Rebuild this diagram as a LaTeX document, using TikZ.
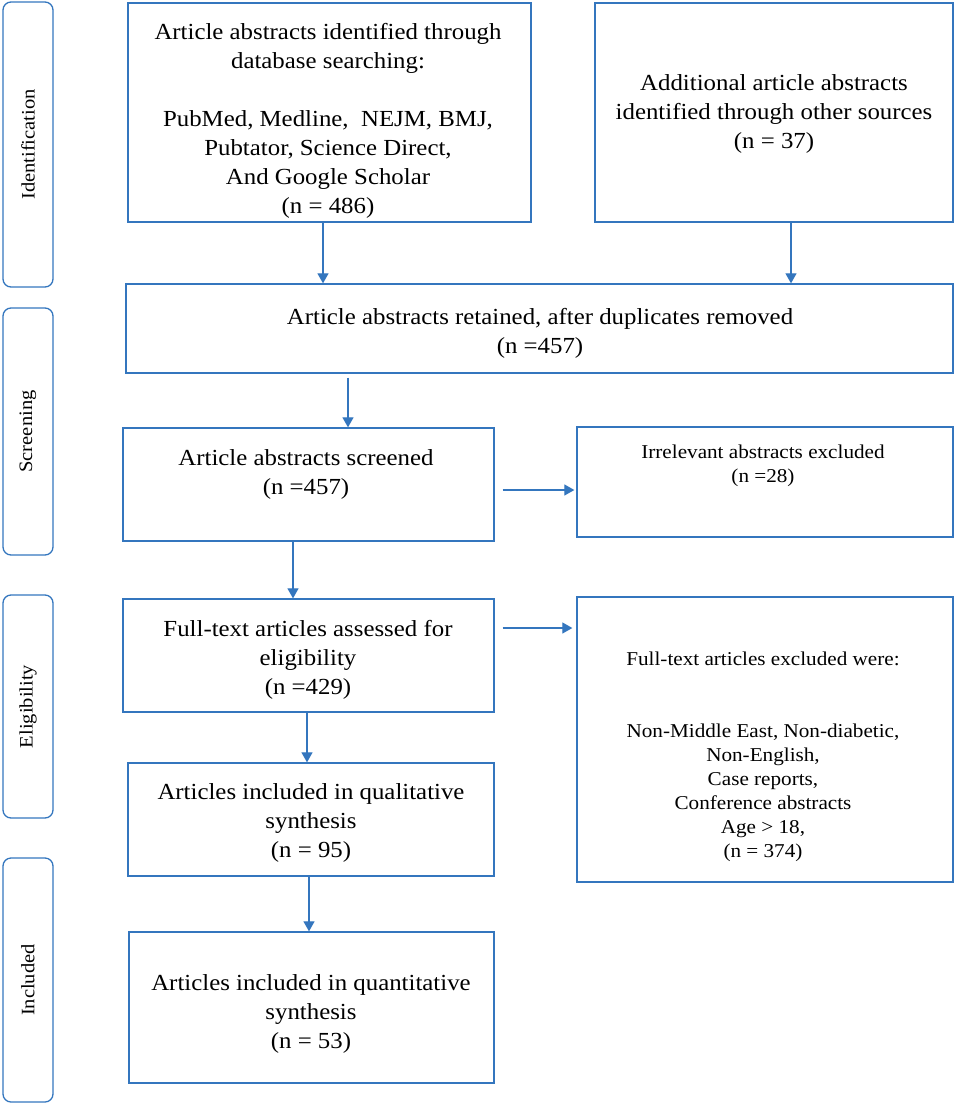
\documentclass[tikz,border=0pt]{standalone}
\usepackage{fontspec}
\setmainfont{Liberation Serif}[FakeStretch=1.08]
\usetikzlibrary{arrows.meta}
\definecolor{bl}{RGB}{52,118,190}
\begin{document}
\begin{tikzpicture}[x=1pt,y=-1pt,
  box/.style={draw=bl, line width=1.3pt, inner sep=0pt},
  stage/.style={draw=bl, line width=1.3pt, rounded corners=8pt, inner sep=0pt, minimum width=50pt},
  big/.style={align=center, font=\fontsize{23}{29}\selectfont, inner sep=0pt},
  small/.style={align=center, font=\fontsize{19.6}{24}\selectfont, inner sep=0pt},
  lab/.style={rotate=90, font=\fontsize{19}{22}\selectfont, inner sep=0pt},
  arr/.style={draw=bl, line width=1.2pt, -{Triangle[width=11pt,length=10pt]}}]
\useasboundingbox (0,0) rectangle (957,1106);
% stage boxes
\node[stage, minimum height=285pt] (s1) at (28,144.5) {};
\node[stage, minimum height=247pt] (s2) at (28,431.5) {};
\node[stage, minimum height=223pt] (s3) at (28,706.5) {};
\node[stage, minimum height=244pt] (s4) at (28,980) {};
\node[lab] (l1) at (s1.center) {Identification};
\node[lab] (l2) at (s2.center) {Screening};
\node[lab] (l3) at (s3.center) {Eligibility};
\node[lab] (l4) at (s4.center) {Included};
% main boxes
\node[box, minimum width=403pt, minimum height=219pt] (A) at (329.5,112.5) {};
\node[box, minimum width=358pt, minimum height=219pt] (B) at (774,112.5) {};
\node[box, minimum width=827pt, minimum height=89pt] (C) at (539.5,328.5) {};
\node[box, minimum width=371pt, minimum height=113pt] (D) at (308.5,484.5) {};
\node[box, minimum width=376pt, minimum height=110pt] (E) at (765,482) {};
\node[box, minimum width=371pt, minimum height=113pt] (F) at (308.5,655.5) {};
\node[box, minimum width=376pt, minimum height=285pt] (G) at (765,739.5) {};
\node[box, minimum width=366pt, minimum height=113pt] (H) at (311,819.5) {};
\node[box, minimum width=365pt, minimum height=151pt] (I) at (311.5,1007.5) {};
% texts
\node[big] (tA) at (328,121) {Article abstracts identified through\\database searching:\\[29pt]PubMed, Medline,\ \ NEJM, BMJ,\\Pubtator, Science Direct,\\And Google Scholar\\(n = 486)};
\node[big] (tB) at (774,114) {Additional article abstracts\\identified through other sources\\(n = 37)};
\node[big] (tC) at (540,333) {Article abstracts retained, after duplicates removed\\(n =457)};
\node[big] (tD) at (306,474) {Article abstracts screened\\(n =457)};
\node[small] (tE) at (763,466) {Irrelevant abstracts excluded\\(n =28)};
\node[big] (tF) at (308,660) {Full-text articles assessed for\\eligibility\\(n =429)};
\node[small] (tG) at (763,757) {Full-text articles excluded were:\\[48pt]Non-Middle East, Non-diabetic,\\Non-English,\\Case reports,\\Conference abstracts\\Age > 18,\\(n = 374)};
\node[big] (tH) at (311,823) {Articles included in qualitative\\synthesis\\(n = 95)};
\node[big] (tI) at (311,1014) {Articles included in quantitative\\synthesis\\(n = 53)};
% arrows
\draw[arr] (323,0 |- A.south) -- (323,0 |- C.north);
\draw[arr] (791,0 |- B.south) -- (791,0 |- C.north);
\draw[arr, shorten <=4pt] (348,0 |- C.south) -- (348,0 |- D.north);
\draw[arr, shorten <=8pt, shorten >=2pt] (D.east |- 0,490) -- (E.west |- 0,490);
\draw[arr] (293,0 |- D.south) -- (293,0 |- F.north);
\draw[arr, shorten <=8pt, shorten >=4pt] (F.east |- 0,628) -- (G.west |- 0,628);
\draw[arr] (307,0 |- F.south) -- (307,0 |- H.north);
\draw[arr] (309,0 |- H.south) -- (309,0 |- I.north);
\end{tikzpicture}
\end{document}
